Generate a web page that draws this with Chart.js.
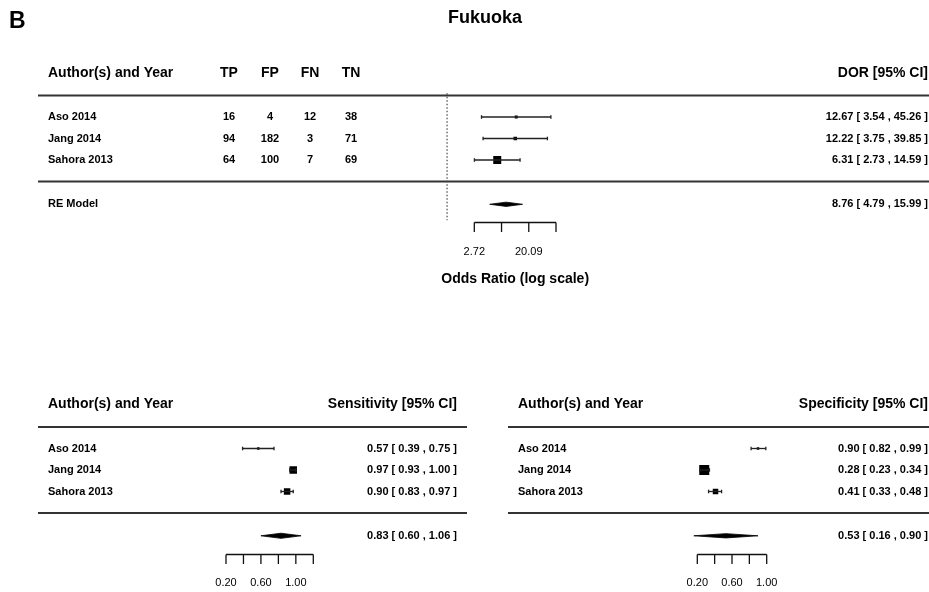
<!DOCTYPE html>
<html>
<head>
<meta charset="utf-8">
<script src="https://cdn.jsdelivr.net/npm/chart.js@4/dist/chart.umd.min.js"></script>
<style>
  html, body { margin: 0; padding: 0; background: #fff; }
  canvas { display: block; }
</style>
</head>
<body>
<canvas id="forest" width="929" height="592"></canvas>
<script>
// ---------- study data ----------
const studies = ['Aso 2014', 'Jang 2014', 'Sahora 2013'];
const TP = [16, 94, 64];
const FP = [4, 182, 100];
const FN = [12, 3, 7];
const TN = [38, 71, 69];

// diagnostic odds ratio per study, with 95% CI
const dorEst  = [12.67, 12.22, 6.31];
const dorLow  = [3.54, 3.75, 2.73];
const dorHigh = [45.26, 39.85, 14.59];
const dorPooled = [8.76, 4.79, 15.99];      // estimate, lower, upper (RE model)

// sensitivity per study, with 95% CI
const sensEst  = [0.57, 0.97, 0.90];
const sensLow  = [0.39, 0.93, 0.83];
const sensHigh = [0.75, 1.00, 0.97];
const sensPooled = [0.83, 0.60, 1.06];

// specificity per study, with 95% CI
const specEst  = [0.90, 0.28, 0.41];
const specLow  = [0.82, 0.23, 0.33];
const specHigh = [0.99, 0.34, 0.48];
const specPooled = [0.53, 0.16, 0.90];

// axis ticks and their printed labels
const dorTicks = [2.718, 7.389, 20.086, 54.598];
const dorTickLabels = ['2.72', '', '20.09', ''];
const sensTicks = [0.2, 0.4, 0.6, 0.8, 1.0, 1.2];
const sensTickLabels = ['0.20', '', '0.60', '', '1.00', ''];
const specTicks = [0.2, 0.4, 0.6, 0.8, 1.0];
const specTickLabels = ['0.20', '', '0.60', '', '1.00'];

// ---------- layout & style ----------
const W = 929, H = 592;
const ROW = 21.5;                 // px per table row
const FONT = '"Liberation Sans", Arial, Helvetica, sans-serif';
const INK = '#000';
const RULE = '#333';
const blocks = { yTop: 95.5, yBot: 427 };   // pixel of row 0 (upper rule) in each block

const panels = [
  {
    xId: 'xDor', yId: 'yTop', log: true,
    est: dorEst, low: dorLow, high: dorHigh, pooled: dorPooled,
    ticks: dorTicks, tickLabels: dorTickLabels,
    axisPx: [474.3, 556.0], rule: [38, 929], labelX: 48, valueRight: 928,
    header: 'DOR [95% CI]', summaryLabel: 'RE Model', axisTitle: 'Odds Ratio (log scale)',
    markerSide: [3, 3.5, 8], diamondHalf: 0.1, refValue: 1,
    columns: [
      { title: 'TP', values: TP, x: 229 },
      { title: 'FP', values: FP, x: 270 },
      { title: 'FN', values: FN, x: 310 },
      { title: 'TN', values: TN, x: 351 }
    ]
  },
  {
    xId: 'xSens', yId: 'yBot', log: false,
    est: sensEst, low: sensLow, high: sensHigh, pooled: sensPooled,
    ticks: sensTicks, tickLabels: sensTickLabels,
    axisPx: [226.0, 313.3], rule: [38, 467], labelX: 48, valueRight: 457,
    header: 'Sensitivity [95% CI]', summaryLabel: '', axisTitle: '',
    markerSide: [2.5, 7.5, 6.5], diamondHalf: 0.12, columns: []
  },
  {
    xId: 'xSpec', yId: 'yBot', log: false,
    est: specEst, low: specLow, high: specHigh, pooled: specPooled,
    ticks: specTicks, tickLabels: specTickLabels,
    axisPx: [697.3, 766.7], rule: [508, 929], labelX: 518, valueRight: 928,
    header: 'Specificity [95% CI]', summaryLabel: '', axisTitle: '',
    markerSide: [2.5, 10, 5.5], diamondHalf: 0.1, columns: []
  }
];

// rows inside a block: header above the upper rule, studies 1..k, lower rule k+1, summary below
const HEADER_ROW = -1.06, SUMMARY_GAP = 2.06;
const AXIS_ROW = 5.9, TICKLABEL_ROW = 7.27, AXISTITLE_ROW = 8.53;
const TICK_LEN = 9.5;

// x scale whose tick span lands on the panel's axis column
function xScaleFor(p) {
  const [a0, a1] = p.axisPx;
  const t0 = p.ticks[0], t1 = p.ticks[p.ticks.length - 1];
  if (p.log) {
    const k = (a1 - a0) / Math.log(t1 / t0);
    return { type: 'logarithmic', axis: 'x', display: false, bounds: 'data',
             min: t0 * Math.exp(-a0 / k), max: t1 * Math.exp((W - a1) / k) };
  }
  const k = (a1 - a0) / (t1 - t0);
  return { type: 'linear', axis: 'x', display: false, bounds: 'data',
           min: t0 - a0 / k, max: t1 + (W - a1) / k };
}

function yScaleFor(origin) {
  return { type: 'linear', axis: 'y', display: false, reverse: true, bounds: 'data',
           min: -origin / ROW, max: (H - origin) / ROW };
}

function panelDatasets(p) {
  const ds = [];
  const k = p.est.length;
  // confidence interval whiskers with small end caps
  p.est.forEach((e, i) => {
    ds.push({
      type: 'scatter', showLine: true, xAxisID: p.xId, yAxisID: p.yId,
      data: [{ x: p.low[i], y: i + 1 }, { x: p.high[i], y: i + 1 }],
      borderColor: '#222', borderWidth: 1.3,
      pointStyle: 'line', pointRotation: 90, pointRadius: 1.8,
      pointBorderColor: '#222', pointBorderWidth: 1.3, pointBackgroundColor: '#222'
    });
  });
  // point estimates as squares
  ds.push({
    type: 'scatter', xAxisID: p.xId, yAxisID: p.yId,
    data: p.est.map((e, i) => ({ x: e, y: i + 1 })),
    pointStyle: 'rect',
    pointRadius: p.markerSide.map(s => s / Math.SQRT2),
    pointBackgroundColor: INK, pointBorderWidth: 0
  });
  // pooled estimate diamond
  const [pe, pl, ph] = p.pooled;
  const r = k + SUMMARY_GAP, h = p.diamondHalf;
  ds.push({
    type: 'scatter', showLine: true, xAxisID: p.xId, yAxisID: p.yId,
    data: [{ x: pl, y: r }, { x: pe, y: r - h }, { x: ph, y: r }, { x: pe, y: r + h }, { x: pl, y: r }],
    fill: 'shape', backgroundColor: INK, borderColor: INK, borderWidth: 0.8,
    pointRadius: 0, tension: 0
  });
  // dotted reference line
  if (p.refValue !== undefined) {
    ds.push({
      type: 'scatter', showLine: true, xAxisID: p.xId, yAxisID: p.yId,
      data: [{ x: p.refValue, y: -0.1 }, { x: p.refValue, y: AXIS_ROW - 0.1 }],
      borderColor: '#444', borderWidth: 1.2, borderDash: [1.5, 2], pointRadius: 0
    });
  }
  return ds;
}

function fmt(v) { return v.toFixed(2); }

function text(ctx, s, x, y, align, font) {
  ctx.font = font;
  ctx.textAlign = align;
  ctx.textBaseline = 'middle';
  ctx.fillStyle = INK;
  ctx.fillText(s, x, y);
}

const forestDecor = {
  id: 'forestDecor',
  beforeDatasetsDraw(chart) {
    const ctx = chart.ctx;
    ctx.save();
    panels.forEach(p => {
      const xs = chart.scales[p.xId], ys = chart.scales[p.yId];
      const k = p.est.length;
      // table rules
      ctx.strokeStyle = RULE;
      ctx.lineWidth = 2;
      [0, k + 1].forEach(row => {
        const y = ys.getPixelForValue(row);
        ctx.beginPath();
        ctx.moveTo(p.rule[0], y);
        ctx.lineTo(p.rule[1], y);
        ctx.stroke();
      });
      // axis: line across the tick span, ticks hanging below
      const ay = Math.round(ys.getPixelForValue(AXIS_ROW)) + 0.5;
      const px = p.ticks.map(t => xs.getPixelForValue(t));
      ctx.strokeStyle = '#111';
      ctx.lineWidth = 1.3;
      ctx.beginPath();
      ctx.moveTo(px[0], ay);
      ctx.lineTo(px[px.length - 1], ay);
      px.forEach(x => { ctx.moveTo(x, ay); ctx.lineTo(x, ay + TICK_LEN); });
      ctx.stroke();
    });
    ctx.restore();
  },
  afterDatasetsDraw(chart) {
    const ctx = chart.ctx;
    ctx.save();
    const bold11 = 'bold 11px ' + FONT;
    const bold14 = 'bold 14px ' + FONT;
    text(ctx, 'B', 9, 22, 'left', 'bold 23px ' + FONT);
    text(ctx, 'Fukuoka', 485, 18, 'center', 'bold 18px ' + FONT);
    panels.forEach(p => {
      const xs = chart.scales[p.xId], ys = chart.scales[p.yId];
      const k = p.est.length;
      const hy = ys.getPixelForValue(HEADER_ROW);
      text(ctx, 'Author(s) and Year', p.labelX, hy, 'left', bold14);
      text(ctx, p.header, p.valueRight, hy, 'right', bold14);
      p.columns.forEach(c => text(ctx, c.title, c.x, hy, 'center', bold14));
      studies.forEach((s, i) => {
        const y = ys.getPixelForValue(i + 1);
        text(ctx, s, p.labelX, y, 'left', bold11);
        p.columns.forEach(c => text(ctx, String(c.values[i]), c.x, y, 'center', bold11));
        text(ctx, fmt(p.est[i]) + ' [ ' + fmt(p.low[i]) + ' , ' + fmt(p.high[i]) + ' ]',
             p.valueRight, y, 'right', bold11);
      });
      const sy = ys.getPixelForValue(k + SUMMARY_GAP);
      if (p.summaryLabel) text(ctx, p.summaryLabel, p.labelX, sy, 'left', bold11);
      text(ctx, fmt(p.pooled[0]) + ' [ ' + fmt(p.pooled[1]) + ' , ' + fmt(p.pooled[2]) + ' ]',
           p.valueRight, sy, 'right', bold11);
      // tick labels
      const ty = ys.getPixelForValue(TICKLABEL_ROW);
      p.ticks.forEach((t, i) => {
        if (p.tickLabels[i]) text(ctx, p.tickLabels[i], xs.getPixelForValue(t), ty, 'center', '11px ' + FONT);
      });
      if (p.axisTitle) {
        const mid = (xs.getPixelForValue(p.ticks[0]) + xs.getPixelForValue(p.ticks[p.ticks.length - 1])) / 2;
        text(ctx, p.axisTitle, mid, ys.getPixelForValue(AXISTITLE_ROW), 'center', bold14);
      }
    });
    ctx.restore();
  }
};

const scales = {
  x: { type: 'linear', display: false },
  y: { type: 'linear', display: false },
  yTop: yScaleFor(blocks.yTop),
  yBot: yScaleFor(blocks.yBot)
};
panels.forEach(p => { scales[p.xId] = xScaleFor(p); });

new Chart(document.getElementById('forest'), {
  type: 'scatter',
  data: { datasets: panels.flatMap(panelDatasets) },
  options: {
    responsive: false,
    animation: false,
    devicePixelRatio: 1,
    events: [],
    layout: { padding: 0, autoPadding: false },
    scales,
    plugins: { legend: { display: false }, tooltip: { enabled: false } }
  },
  plugins: [forestDecor]
});
</script>
</body>
</html>
